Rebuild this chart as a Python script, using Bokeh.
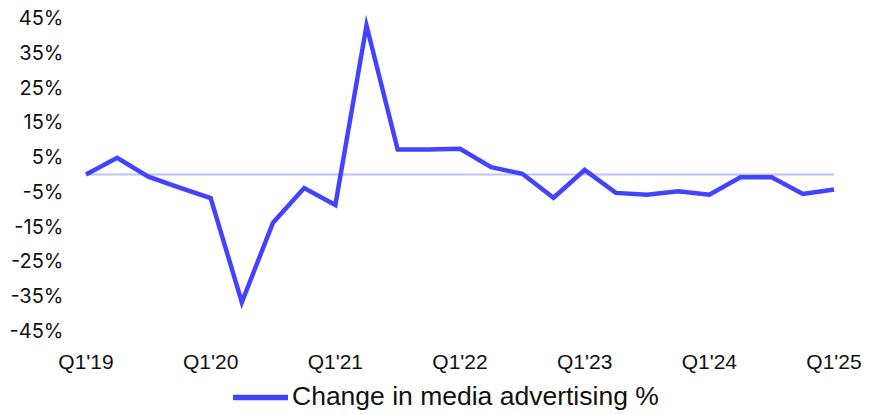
from bokeh.plotting import figure
from bokeh.models import ColumnDataSource, FixedTicker, Range1d, Legend, LegendItem
from bokeh.layouts import column
from bokeh.embed import file_html
from bokeh.resources import INLINE

quarters = ["Q1'19", "Q2'19", "Q3'19", "Q4'19",
            "Q1'20", "Q2'20", "Q3'20", "Q4'20",
            "Q1'21", "Q2'21", "Q3'21", "Q4'21",
            "Q1'22", "Q2'22", "Q3'22", "Q4'22",
            "Q1'23", "Q2'23", "Q3'23", "Q4'23",
            "Q1'24", "Q2'24", "Q3'24", "Q4'24",
            "Q1'25"]
change_pct = [0.0, 4.8, -0.6, -3.8,
              -6.8, -36.8, -13.9, -3.9,
              -8.8, 42.9, 7.2, 7.2,
              7.4, 2.1, 0.2, -6.7,
              1.3, -5.3, -5.8, -4.8,
              -5.8, -0.8, -0.8, -5.6,
              -4.3]
y_ticks = [-45, -35, -25, -15, -5, 5, 15, 25, 35, 45]
x_tick_every = 4
series_name = "Change in media advertising %"

LINE = "#4343ff"

idx = list(range(len(quarters)))
src = ColumnDataSource(dict(x=idx, y=change_pct, zero=[0] * len(idx)))

p = figure(width=869, height=380, output_backend="svg",
           toolbar_location=None, min_border_left=70, min_border_top=10,
           min_border_right=21, min_border_bottom=42,
           x_range=Range1d(-0.497, 24.465), y_range=Range1d(-47.24, 47.24))
p.outline_line_color = None
p.grid.visible = False
p.background_fill_color = "white"
p.border_fill_color = "white"

p.line("x", "zero", source=src, line_color="#bcc0fc", line_width=2)
p.line("x", "y", source=src, line_color=LINE, line_width=4.5,
       line_join="miter")

tick_pos = idx[::x_tick_every]
p.xaxis.ticker = FixedTicker(ticks=tick_pos)
p.xaxis.major_label_overrides = {i: quarters[i] for i in tick_pos}
p.yaxis.ticker = FixedTicker(ticks=y_ticks)
p.yaxis.major_label_overrides = {v: f"{v}%" for v in y_ticks}

for ax in (p.xaxis[0], p.yaxis[0]):
    ax.axis_line_color = None
    ax.major_tick_line_color = None
    ax.minor_tick_line_color = None
    ax.major_tick_out = 0
    ax.major_tick_in = 0
    ax.major_label_text_color = "#111111"

p.yaxis.major_label_text_font = "Inter"
p.yaxis.major_label_text_font_size = "20px"
p.yaxis.major_label_standoff = 7
p.xaxis.major_label_text_font = "Liberation Sans"
p.xaxis.major_label_text_font_size = "21px"
p.xaxis.major_label_standoff = 11

# legend strip below the chart (the series is out of this strip's view;
# it only supplies the legend swatch)
lg = figure(width=869, height=34, output_backend="svg", toolbar_location=None,
            x_axis_type=None, y_axis_type=None, min_border=0,
            x_range=Range1d(100, 101), y_range=Range1d(100, 101))
lg.outline_line_color = None
lg.grid.visible = False
leg_r = lg.line("x", "y", source=src, line_color=LINE, line_width=5.5,
                line_cap="round")
legend = Legend(items=[LegendItem(label=series_name, renderers=[leg_r])],
                orientation="horizontal", location=(163, 2),
                margin=0, padding=0, glyph_width=55, glyph_height=30,
                label_standoff=4, label_height=30,
                label_text_font="Liberation Sans", label_text_font_size="26.5px",
                label_text_color="#111111", border_line_color=None,
                background_fill_alpha=0)
lg.add_layout(legend, "center")

layout = column(p, lg, spacing=0)
open("out.html", "w").write(file_html(layout, INLINE))
